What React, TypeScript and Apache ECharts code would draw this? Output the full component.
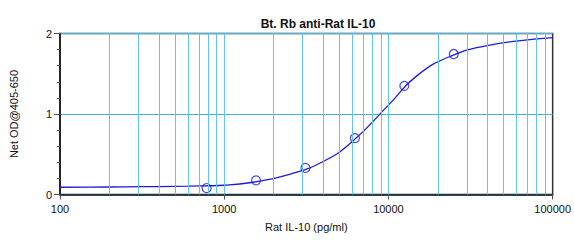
import React, { useEffect, useRef } from "react";
import * as echarts from "echarts";

const title = "Bt. Rb anti-Rat IL-10";
const xAxisName = "Rat IL-10 (pg/ml)";
const yAxisName = "Net OD@405-650";

// standards (measured points)
const stdConc = [781.25, 1562.5, 3125, 6250, 12500, 25000];
const stdOD = [0.08, 0.176, 0.33, 0.7, 1.35, 1.745];

// fitted curve
const curveConc = [100, 150, 250, 400, 600, 1000, 1500, 2500, 4000, 6000, 10000, 15000, 25000, 40000, 60000, 100000];
const curveOD = [0.09, 0.092, 0.095, 0.099, 0.104, 0.115, 0.152, 0.25, 0.41, 0.655, 1.11, 1.48, 1.735, 1.85, 1.905, 1.95];

// vertical grid positions (log minor grid)
const xGridLines = [
  200, 300, 400, 500, 600, 700, 800, 900, 1000,
  2000, 3000, 4000, 5000, 6000, 7000, 8000, 9000, 10000,
  20000, 30000, 40000, 50000, 60000, 70000, 80000, 90000,
];

const FONT = "'Liberation Sans', Arial, sans-serif";

export default function App() {
  const ref = useRef<HTMLDivElement>(null);
  useEffect(() => {
    if (!ref.current) return;
    const chart = echarts.init(ref.current, null, { renderer: "svg" });
    chart.setOption({
      animation: false,
      backgroundColor: "#ffffff",
      title: {
        text: title,
        left: 313,
        top: 13,
        textAlign: "center",
        textStyle: { fontFamily: FONT, fontSize: 12, fontWeight: "bold", color: "#111" },
      },
      grid: {
        left: 57.5,
        right: 19,
        top: 33.5,
        bottom: 45.5,
        show: true,
        borderColor: "#333",
        borderWidth: 1.5,
        backgroundColor: "transparent",
      },
      xAxis: {
        type: "log",
        logBase: 10,
        min: 100,
        max: 100000,
        name: xAxisName,
        nameLocation: "middle",
        nameGap: 27,
        nameTextStyle: { fontFamily: FONT, fontSize: 11, color: "#111" },
        axisLine: { show: true, lineStyle: { color: "#111", width: 1.5 } },
        axisTick: { show: true, length: 5, lineStyle: { color: "#555" } },
        axisLabel: {
          fontFamily: FONT,
          fontSize: 11,
          color: "#111",
          margin: 9,
          formatter: (v: number) => String(Math.round(v)),
        },
        splitLine: { show: false },
      },
      yAxis: {
        type: "value",
        min: 0,
        max: 2,
        interval: 1,
        name: yAxisName,
        nameLocation: "middle",
        nameGap: 41,
        nameTextStyle: { fontFamily: FONT, fontSize: 11, color: "#111" },
        axisLine: { show: true, lineStyle: { color: "#111", width: 1.5 } },
        axisTick: { show: true, length: 6, lineStyle: { color: "#555" } },
        minorTick: { show: true, splitNumber: 5, length: 3, lineStyle: { color: "#555" } },
        axisLabel: { fontFamily: FONT, fontSize: 11, color: "#111", margin: 8 },
        splitLine: { show: true, lineStyle: { color: "#3fb6e6", width: 1 } },
      },
      series: [
        {
          type: "line",
          data: [[100, 0]],
          symbol: "none",
          lineStyle: { opacity: 0 },
          silent: true,
          z: 1,
          markLine: {
            silent: true,
            symbol: ["none", "none"],
            label: { show: false },
            lineStyle: { color: "#5cc6ee", type: "solid", width: 1 },
            data: xGridLines.map((v) => ({ xAxis: v })),
          },
        },
        {
          type: "line",
          data: curveConc.map((c, i) => [c, curveOD[i]]),
          smooth: 0.5,
          symbol: "none",
          lineStyle: { color: "#1b1be0", width: 1.3 },
          z: 3,
        },
        {
          type: "scatter",
          data: stdConc.map((c, i) => [c, stdOD[i]]),
          symbol: "circle",
          symbolSize: 9,
          itemStyle: { color: "transparent", borderColor: "#1b1be0", borderWidth: 1.2 },
          z: 4,
        },
      ],
    });
    return () => chart.dispose();
  }, []);
  return (
    <div
      ref={ref}
      style={{ position: "fixed", left: 0, top: 0, width: 574, height: 240 }}
    />
  );
}
